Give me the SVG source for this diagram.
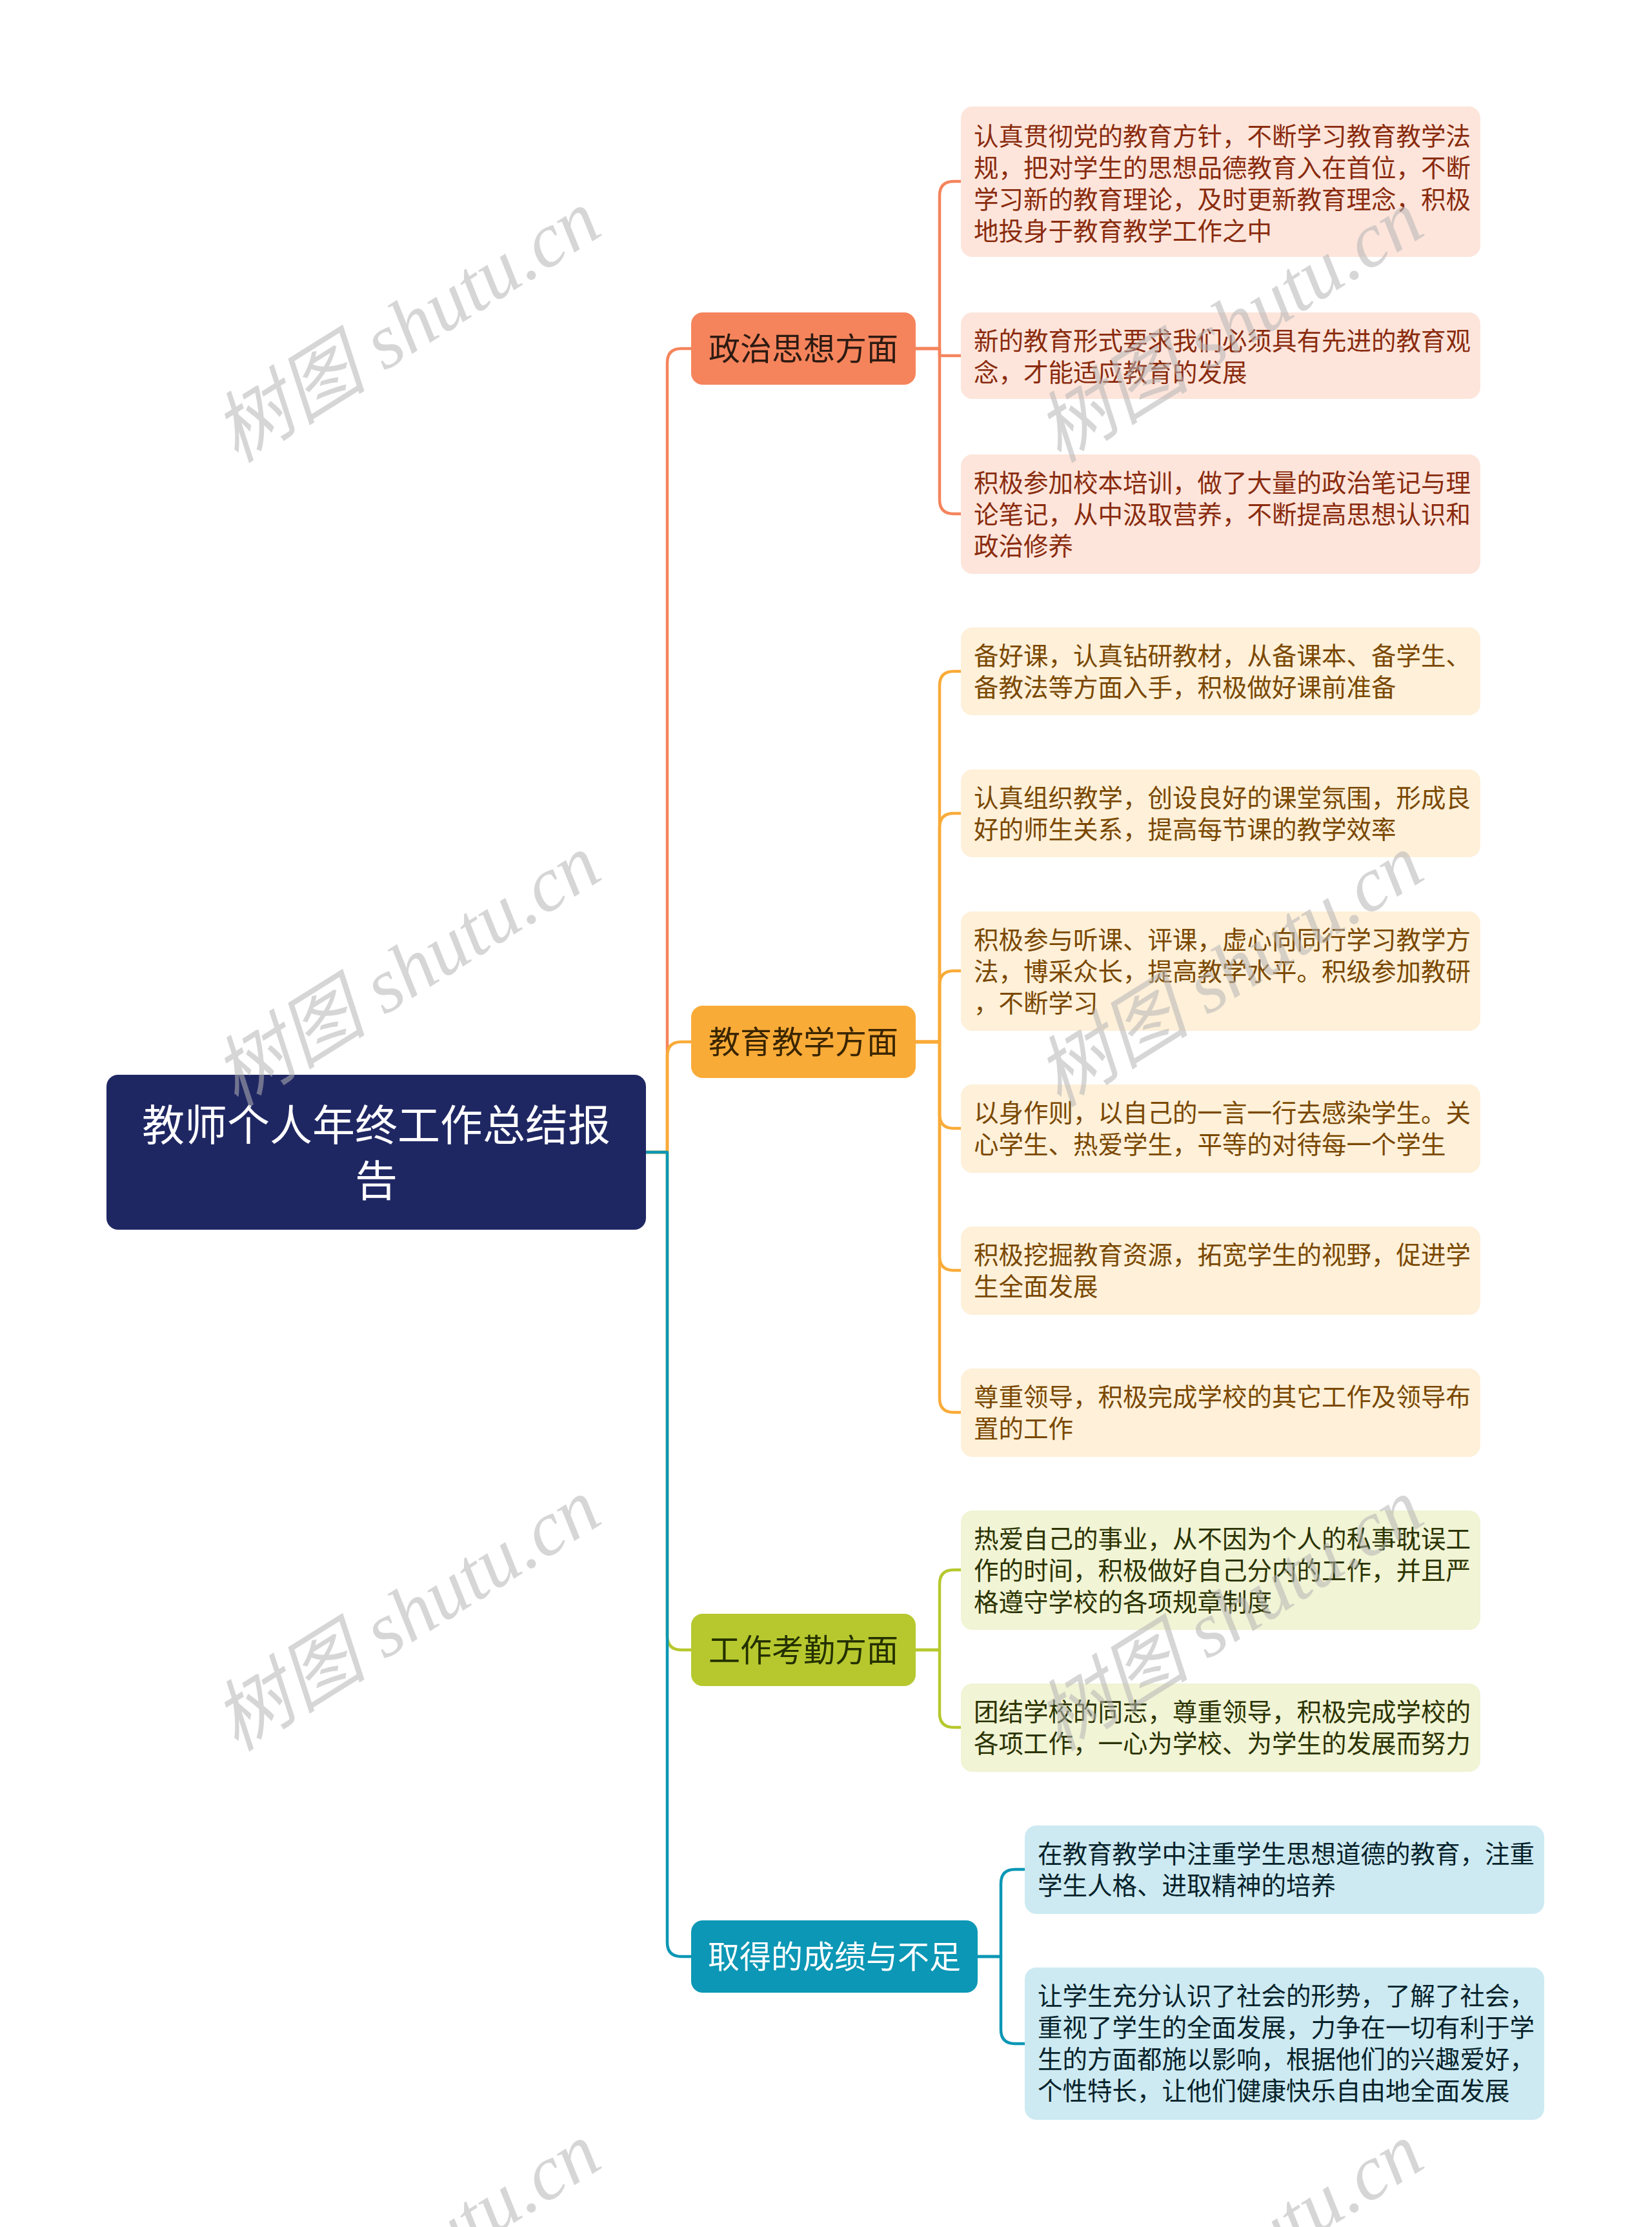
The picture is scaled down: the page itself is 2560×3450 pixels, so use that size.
<svg xmlns="http://www.w3.org/2000/svg" width="2560" height="3450" viewBox="0 0 2560 3450">
<style>
text{font-family:"Noto Sans CJK SC","Noto Sans",sans-serif}
.c{fill:none;stroke-width:4.5;stroke-linejoin:round;stroke-linecap:round}
.t1{font-size:49px;text-anchor:middle}
.lf{font-size:38.5px}
.wm{font-family:"Liberation Serif","Noto Sans CJK SC",serif;font-style:italic;font-size:120px;fill:#b4b4b4;fill-opacity:0.55;text-anchor:middle}
</style>
<rect width="2560" height="3450" fill="#ffffff"/>
<g id="connectors">
<path class="c" stroke="#F5845C" d="M1001 1785 H1034 V562 Q1034 540 1056 540 H1071"/>
<path class="c" stroke="#F9AB38" d="M1001 1785 H1034 V1636 Q1034 1614 1056 1614 H1071"/>
<path class="c" stroke="#B6C82E" d="M1001 1785 H1034 V2534 Q1034 2556 1056 2556 H1071"/>
<path class="c" stroke="#0B97B5" d="M1001 1785 H1034 V3009 Q1034 3031 1056 3031 H1071"/>
<path class="c" stroke="#F5845C" d="M1419 540 H1456 V303 Q1456 281 1478 281 H1489"/>
<path class="c" stroke="#F5845C" d="M1419 540 H1456 V551 H1489"/>
<path class="c" stroke="#F5845C" d="M1419 540 H1456 V774 Q1456 796 1478 796 H1489"/>
<path class="c" stroke="#F9AB38" d="M1419 1614 H1456 V1062 Q1456 1040 1478 1040 H1489"/>
<path class="c" stroke="#F9AB38" d="M1419 1614 H1456 V1282 Q1456 1260 1478 1260 H1489"/>
<path class="c" stroke="#F9AB38" d="M1419 1614 H1456 V1526 Q1456 1504 1478 1504 H1489"/>
<path class="c" stroke="#F9AB38" d="M1419 1614 H1456 V1726 Q1456 1748 1478 1748 H1489"/>
<path class="c" stroke="#F9AB38" d="M1419 1614 H1456 V1946 Q1456 1968 1478 1968 H1489"/>
<path class="c" stroke="#F9AB38" d="M1419 1614 H1456 V2166 Q1456 2188 1478 2188 H1489"/>
<path class="c" stroke="#B6C82E" d="M1419 2556 H1456 V2454 Q1456 2432 1478 2432 H1489"/>
<path class="c" stroke="#B6C82E" d="M1419 2556 H1456 V2654 Q1456 2676 1478 2676 H1489"/>
<path class="c" stroke="#0B97B5" d="M1515 3031 H1551 V2918 Q1551 2896 1573 2896 H1588"/>
<path class="c" stroke="#0B97B5" d="M1515 3031 H1551 V3144 Q1551 3166 1573 3166 H1588"/>
</g>
<g id="root">
<rect x="165" y="1665" width="836" height="240" rx="18" fill="#1F2763"/>
<text x="583" y="1767" font-size="66" fill="#ffffff" text-anchor="middle">教师个人年终工作总结报</text>
<text x="583" y="1853" font-size="66" fill="#ffffff" text-anchor="middle">告</text>
</g>
<g id="n1">
<rect x="1071" y="484" width="348" height="112" rx="18" fill="#F5845C"/>
<text class="t1" x="1245" y="558" fill="#2d1a12">政治思想方面</text>
</g>
<g id="n2">
<rect x="1071" y="1558" width="348" height="112" rx="18" fill="#F9AB38"/>
<text class="t1" x="1245" y="1632" fill="#3a2500">教育教学方面</text>
</g>
<g id="n3">
<rect x="1071" y="2500" width="348" height="112" rx="18" fill="#B6C82E"/>
<text class="t1" x="1245" y="2574" fill="#243000">工作考勤方面</text>
</g>
<g id="n4">
<rect x="1071" y="2975" width="444" height="112" rx="18" fill="#0B97B5"/>
<text class="t1" x="1293" y="3049" fill="#ffffff">取得的成绩与不足</text>
</g>
<g id="n1-1">
<rect x="1489" y="165" width="805" height="233" rx="18" fill="#FDE5DB"/>
<text class="lf" fill="#8A2B0E"><tspan x="1509" y="225">认真贯彻党的教育方针，不断学习教育教学法</tspan><tspan x="1509" y="274">规，把对学生的思想品德教育入在首位，不断</tspan><tspan x="1509" y="323">学习新的教育理论，及时更新教育理念，积极</tspan><tspan x="1509" y="372">地投身于教育教学工作之中</tspan></text>
</g>
<g id="n1-2">
<rect x="1489" y="484" width="805" height="134" rx="18" fill="#FDE5DB"/>
<text class="lf" fill="#8A2B0E"><tspan x="1509" y="542">新的教育形式要求我们必须具有先进的教育观</tspan><tspan x="1509" y="591">念，才能适应教育的发展</tspan></text>
</g>
<g id="n1-3">
<rect x="1489" y="704" width="805" height="185" rx="18" fill="#FDE5DB"/>
<text class="lf" fill="#8A2B0E"><tspan x="1509" y="762">积极参加校本培训，做了大量的政治笔记与理</tspan><tspan x="1509" y="811">论笔记，从中汲取营养，不断提高思想认识和</tspan><tspan x="1509" y="860">政治修养</tspan></text>
</g>
<g id="n2-1">
<rect x="1489" y="972" width="805" height="136" rx="18" fill="#FEF0D9"/>
<text class="lf" fill="#7A4800"><tspan x="1509" y="1030">备好课，认真钻研教材，从备课本、备学生、</tspan><tspan x="1509" y="1079">备教法等方面入手，积极做好课前准备</tspan></text>
</g>
<g id="n2-2">
<rect x="1489" y="1192" width="805" height="136" rx="18" fill="#FEF0D9"/>
<text class="lf" fill="#7A4800"><tspan x="1509" y="1250">认真组织教学，创设良好的课堂氛围，形成良</tspan><tspan x="1509" y="1299">好的师生关系，提高每节课的教学效率</tspan></text>
</g>
<g id="n2-3">
<rect x="1489" y="1412" width="805" height="185" rx="18" fill="#FEF0D9"/>
<text class="lf" fill="#7A4800"><tspan x="1509" y="1470">积极参与听课、评课，虚心向同行学习教学方</tspan><tspan x="1509" y="1519">法，博采众长，提高教学水平。积级参加教研</tspan><tspan x="1509" y="1568">，不断学习</tspan></text>
</g>
<g id="n2-4">
<rect x="1489" y="1680" width="805" height="137" rx="18" fill="#FEF0D9"/>
<text class="lf" fill="#7A4800"><tspan x="1509" y="1738">以身作则，以自己的一言一行去感染学生。关</tspan><tspan x="1509" y="1787">心学生、热爱学生，平等的对待每一个学生</tspan></text>
</g>
<g id="n2-5">
<rect x="1489" y="1900" width="805" height="137" rx="18" fill="#FEF0D9"/>
<text class="lf" fill="#7A4800"><tspan x="1509" y="1958">积极挖掘教育资源，拓宽学生的视野，促进学</tspan><tspan x="1509" y="2007">生全面发展</tspan></text>
</g>
<g id="n2-6">
<rect x="1489" y="2120" width="805" height="137" rx="18" fill="#FEF0D9"/>
<text class="lf" fill="#7A4800"><tspan x="1509" y="2178">尊重领导，积极完成学校的其它工作及领导布</tspan><tspan x="1509" y="2227">置的工作</tspan></text>
</g>
<g id="n3-1">
<rect x="1489" y="2340" width="805" height="185" rx="18" fill="#F1F4D5"/>
<text class="lf" fill="#2B3300"><tspan x="1509" y="2398">热爱自己的事业，从不因为个人的私事耽误工</tspan><tspan x="1509" y="2447">作的时间，积极做好自己分内的工作，并且严</tspan><tspan x="1509" y="2496">格遵守学校的各项规章制度</tspan></text>
</g>
<g id="n3-2">
<rect x="1489" y="2608" width="805" height="137" rx="18" fill="#F1F4D5"/>
<text class="lf" fill="#2B3300"><tspan x="1509" y="2666">团结学校的同志，尊重领导，积极完成学校的</tspan><tspan x="1509" y="2715">各项工作，一心为学校、为学生的发展而努力</tspan></text>
</g>
<g id="n4-1">
<rect x="1588" y="2828" width="805" height="137" rx="18" fill="#CDEAF2"/>
<text class="lf" fill="#06222b"><tspan x="1608" y="2886">在教育教学中注重学生思想道德的教育，注重</tspan><tspan x="1608" y="2935">学生人格、进取精神的培养</tspan></text>
</g>
<g id="n4-2">
<rect x="1588" y="3048" width="805" height="236" rx="18" fill="#CDEAF2"/>
<text class="lf" fill="#06222b"><tspan x="1608" y="3106">让学生充分认识了社会的形势，了解了社会，</tspan><tspan x="1608" y="3155">重视了学生的全面发展，力争在一切有利于学</tspan><tspan x="1608" y="3204">生的方面都施以影响，根据他们的兴趣爱好，</tspan><tspan x="1608" y="3253">个性特长，让他们健康快乐自由地全面发展</tspan></text>
</g>
<g id="watermarks">
<text class="wm" transform="translate(652 540) rotate(-32)">树图 shutu.cn</text>
<text class="wm" transform="translate(1927 540) rotate(-32)">树图 shutu.cn</text>
<text class="wm" transform="translate(652 1538) rotate(-32)">树图 shutu.cn</text>
<text class="wm" transform="translate(1927 1538) rotate(-32)">树图 shutu.cn</text>
<text class="wm" transform="translate(652 2536) rotate(-32)">树图 shutu.cn</text>
<text class="wm" transform="translate(1927 2536) rotate(-32)">树图 shutu.cn</text>
<text class="wm" transform="translate(652 3534) rotate(-32)">树图 shutu.cn</text>
<text class="wm" transform="translate(1927 3534) rotate(-32)">树图 shutu.cn</text>
</g>
</svg>
